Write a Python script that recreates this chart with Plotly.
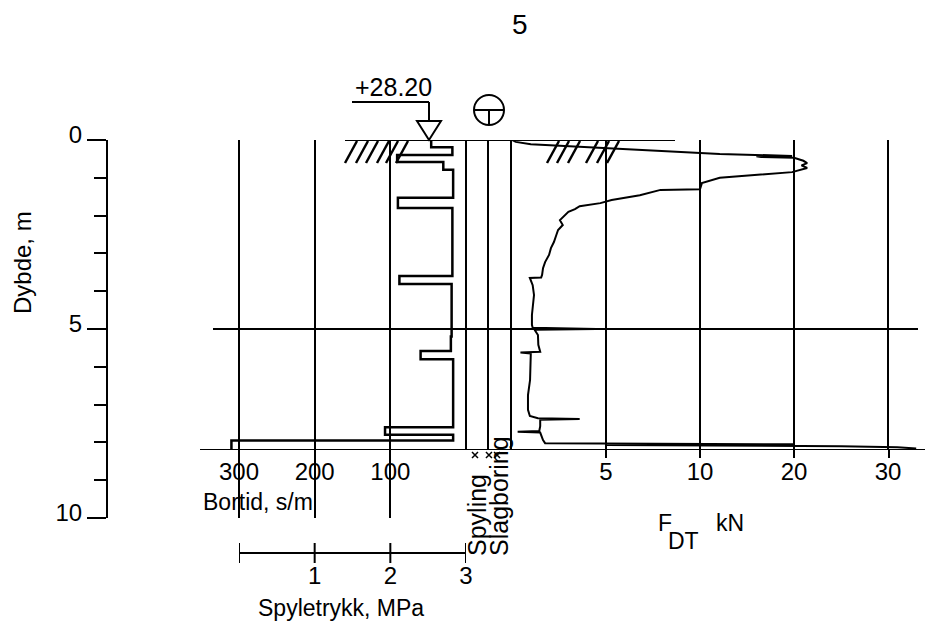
import plotly.graph_objects as go

W, H = 928, 630

# ---- data -------------------------------------------------------------
# Bortid (s/m): start depth of each interval and its value, last row closes the log
bortid_depth = [0.00, 0.19, 0.40, 0.58, 0.79, 1.53, 1.80, 3.60, 3.81, 5.20,
                5.58, 5.80, 7.60, 7.80, 7.95, 8.20]
bortid_value = [46, 18, 91, 30, 17, 90, 18, 88, 19, 20,
                60, 17, 107, 17, 310, 310]

# Matekraft F_DT (kN) against depth (m)
fdt_depth = [0.00, 0.05, 0.11, 0.34, 0.37, 0.42, 0.43, 0.45, 0.47, 0.55,
             0.61, 0.67, 0.74, 0.85, 1.00, 1.14, 1.30, 1.32, 1.46, 1.59,
             1.67, 1.75, 1.83, 1.90, 2.01, 2.12, 2.25, 2.38, 2.54, 2.70,
             2.86, 3.04, 3.23, 3.39, 3.57, 3.64, 3.65, 3.84, 4.10, 4.37,
             4.63, 4.89, 4.97, 5.00, 5.02, 5.16, 5.42, 5.60, 5.62, 5.65,
             5.95, 6.35, 6.75, 7.14, 7.30, 7.36, 7.38, 7.40, 7.57, 7.70,
             7.72, 7.74, 7.94, 8.02, 8.05, 8.07, 8.10, 8.13, 8.16]
fdt_force = [0.0, 0.2, 1.0, 10.0, 12.1, 19.8, 16.0, 16.5, 20.0, 21.0,
             21.4, 20.8, 21.4, 19.8, 12.1, 10.2, 10.0, 7.9, 6.8, 5.3,
             4.7, 3.6, 3.35, 3.0, 2.8, 2.55, 2.7, 2.45, 2.34, 2.23,
             2.07, 1.97, 1.76, 1.65, 1.6, 1.55, 0.95, 1.1, 1.17, 1.1,
             1.06, 1.06, 1.1, 4.5, 1.2, 1.38, 1.4, 1.5, 0.45, 1.0,
             1.0, 0.96, 0.85, 0.85, 0.95, 1.38, 3.6, 1.5, 1.5, 1.45,
             0.3, 1.5, 1.65, 1.76, 20.0, 5.0, 25.0, 31.0, 33.0]

end_depth = 8.20
depth_major = [0, 5, 10]
depth_minor = [1, 2, 3, 4, 6, 7, 8, 9]
bortid_ticks = [300, 200, 100]
fdt_ticks = [5, 10, 20, 30]
spyle_ticks = [0, 1, 2, 3]
column_marks = [0.4, 1.02, 1.38]   # x-marks under the Spyling/Slagboring columns

FONT = "Liberation Sans, Arial, sans-serif"
FS = 23
TICK_FS = 24


def fx(v):
    """Broken F_DT scale: 0-10 kN linear, 10-30 kN at half the spacing."""
    return v if v <= 10 else 10 + (v - 10) / 2.0


def px(x):
    return x / W


def py(y):
    return 1 - y / H


# pixel geometry of the log
Y0 = 140                       # top of log (depth 0)
PPM = 37.8                     # pixels per metre
Y_BOT = Y0 + end_depth * PPM   # bottom line of the log
X_B0, PPB = 466, 227 / 300     # bortid zero and pixels per s/m
X_F0, PPF = 512, 18.8          # F_DT zero and pixels per (scaled) kN

fig = go.Figure()

# bortid step curve
fig.add_trace(go.Scatter(x=bortid_value, y=bortid_depth, mode="lines",
                         line=dict(color="black", width=2.5, shape="vh"),
                         xaxis="x", yaxis="y", hoverinfo="skip"))
# F_DT curve
fig.add_trace(go.Scatter(x=[fx(v) for v in fdt_force], y=fdt_depth, mode="lines",
                         line=dict(color="black", width=2),
                         xaxis="x2", yaxis="y", hoverinfo="skip"))
# depth axis carrier
fig.add_trace(go.Scatter(x=[0, 0], y=[0, 10], mode="lines", opacity=0,
                         xaxis="x", yaxis="y2", hoverinfo="skip"))
# spyletrykk scale with crossing ticks
fig.add_trace(go.Scatter(x=spyle_ticks, y=[0] * len(spyle_ticks), mode="markers",
                         marker=dict(symbol="line-ns", size=15,
                                     line=dict(color="black", width=2)),
                         xaxis="x3", yaxis="y3", hoverinfo="skip"))
# x-marks under the columns
fig.add_trace(go.Scatter(x=column_marks, y=[0] * len(column_marks), mode="markers",
                         marker=dict(symbol="x-thin", size=6,
                                     line=dict(color="black", width=1.5)),
                         xaxis="x4", yaxis="y4", hoverinfo="skip"))

axis_common = dict(showline=False, zeroline=False,
                   ticks="outside", ticklen=0, tickcolor="rgba(0,0,0,0)",
                   tickfont=dict(family=FONT, size=TICK_FS, color="black"),
                   gridcolor="black", gridwidth=2, fixedrange=True,
                   automargin=False)

fig.update_layout(
    width=W, height=H,
    margin=dict(l=0, r=0, t=0, b=0, pad=0, autoexpand=False),
    paper_bgcolor="white", plot_bgcolor="rgba(0,0,0,0)",
    showlegend=False,
    xaxis=dict(domain=[px(200), px(X_B0)],
               range=[(X_B0 - 200) / PPB, 0],
               tickmode="array", tickvals=bortid_ticks,
               ticktext=[str(t) for t in bortid_ticks],
               showgrid=True, anchor="y", **axis_common),
    xaxis2=dict(domain=[px(X_F0), 1],
                range=[0, (W - X_F0) / PPF],
                tickmode="array", tickvals=[fx(t) for t in fdt_ticks],
                ticktext=[str(t) for t in fdt_ticks],
                showgrid=True, anchor="y", **axis_common),
    yaxis=dict(domain=[py(Y_BOT), py(Y0)], range=[end_depth, 0],
               showgrid=False, showticklabels=False, anchor="x",
               **{k: v for k, v in axis_common.items() if k != "tickfont"}),
    yaxis2=dict(domain=[py(Y0 + 10 * PPM), py(Y0)], range=[10, 0],
                anchor="free", position=px(107), side="left",
                showline=True, linecolor="black", linewidth=2,
                ticks="outside", ticklen=19, tickwidth=2, tickcolor="black",
                tickmode="array", tickvals=depth_major,
                ticktext=[str(t) for t in depth_major],
                minor=dict(tickmode="array", tickvals=depth_minor,
                           ticks="outside", ticklen=12, tickwidth=2,
                           tickcolor="black"),
                ticklabelshift=5, automargin=False,
                showgrid=False, zeroline=False, fixedrange=True,
                tickfont=dict(family=FONT, size=TICK_FS, color="black")),
    xaxis3=dict(domain=[px(239), px(466)], range=[0, 3],
                anchor="free", position=py(553), side="bottom",
                showline=True, linecolor="black", linewidth=2,
                tickmode="array", tickvals=spyle_ticks[1:],
                ticktext=[str(t) for t in spyle_ticks[1:]],
                ticklabelstandoff=1, automargin=False,
                showgrid=False, zeroline=False, ticks="", fixedrange=True,
                tickfont=dict(family=FONT, size=TICK_FS, color="black")),
    yaxis3=dict(domain=[py(563), py(543)], range=[-1, 1], anchor="x3",
                visible=False, fixedrange=True),
    xaxis4=dict(domain=[px(X_B0), px(511)], range=[0, 2], visible=False,
                anchor="y4", fixedrange=True),
    yaxis4=dict(domain=[py(462), py(448)], range=[-1, 1], visible=False,
                anchor="x4", fixedrange=True),
)

shapes = []
LINE = dict(color="black", width=2)

# ground surface and depth lines
shapes.append(dict(type="line", xref="paper", yref="y", x0=px(345), x1=px(675),
                   y0=0, y1=0, line=LINE))
shapes.append(dict(type="line", xref="paper", yref="y", x0=px(213), x1=px(918),
                   y0=5, y1=5, line=LINE))
shapes.append(dict(type="line", xref="paper", yref="y", x0=px(200), x1=px(925),
                   y0=end_depth, y1=end_depth, line=LINE))
# Spyling / Slagboring column borders
for cx in (466, 488, 511):
    shapes.append(dict(type="line", xref="paper", yref="y", x0=px(cx), x1=px(cx),
                       y0=0, y1=end_depth, line=LINE))
# grid lines continue a little under the bottom line
for cx in (239, 315, 390, 606, 700, 794, 889):
    shapes.append(dict(type="line", xref="paper", yref="paper", x0=px(cx), x1=px(cx),
                       y0=py(458), y1=py(Y_BOT), line=LINE))
# terrain hatching
for bx in (345, 356, 366, 377, 386, 396, 547, 557, 568, 586, 597, 607):
    shapes.append(dict(type="line", xref="paper", yref="paper",
                       x0=px(bx), y0=py(163), x1=px(bx + 12), y1=py(141),
                       line=dict(color="black", width=2.5)))
# elevation marker
shapes.append(dict(type="path", xref="paper", yref="paper",
                   path=f"M {px(417)} {py(121)} L {px(441)} {py(121)} L {px(429)} {py(140)} Z",
                   line=LINE, fillcolor="white"))
shapes.append(dict(type="line", xref="paper", yref="paper", x0=px(352), x1=px(429),
                   y0=py(102), y1=py(102), line=LINE))
shapes.append(dict(type="line", xref="paper", yref="paper", x0=px(429), x1=px(429),
                   y0=py(102), y1=py(121), line=LINE))
# sounding symbol
shapes.append(dict(type="circle", xref="paper", yref="paper", x0=px(474), x1=px(504),
                   y0=py(125), y1=py(95), line=LINE))
shapes.append(dict(type="line", xref="paper", yref="paper", x0=px(474), x1=px(504),
                   y0=py(110), y1=py(110), line=LINE))
shapes.append(dict(type="line", xref="paper", yref="paper", x0=px(489), x1=px(489),
                   y0=py(110), y1=py(125), line=LINE))
fig.update_layout(shapes=shapes)


def label(text, x, y, size=FS, angle=0, xanchor="center", yanchor="middle"):
    fig.add_annotation(text=text, x=px(x), y=py(y), xref="paper", yref="paper",
                       showarrow=False, textangle=angle, xanchor=xanchor,
                       yanchor=yanchor,
                       font=dict(family=FONT, size=size, color="black"))


label("5", 520, 25, size=28)
label("Dybde, m", 22, 263, size=24, angle=-90)
label("+28.20", 353, 87, size=25, xanchor="left")
label("Bortid, s/m", 258, 502)
label("Spyletrykk, MPa", 341, 608)
label("F", 656, 523, xanchor="left")
label("DT", 666, 541, xanchor="left")
label("kN", 714, 523, xanchor="left")
label("Spyling", 477, 515, size=25, angle=-90)
label("Slagboring", 499, 496, size=25, angle=-90)

fig.write_html("out.html")
